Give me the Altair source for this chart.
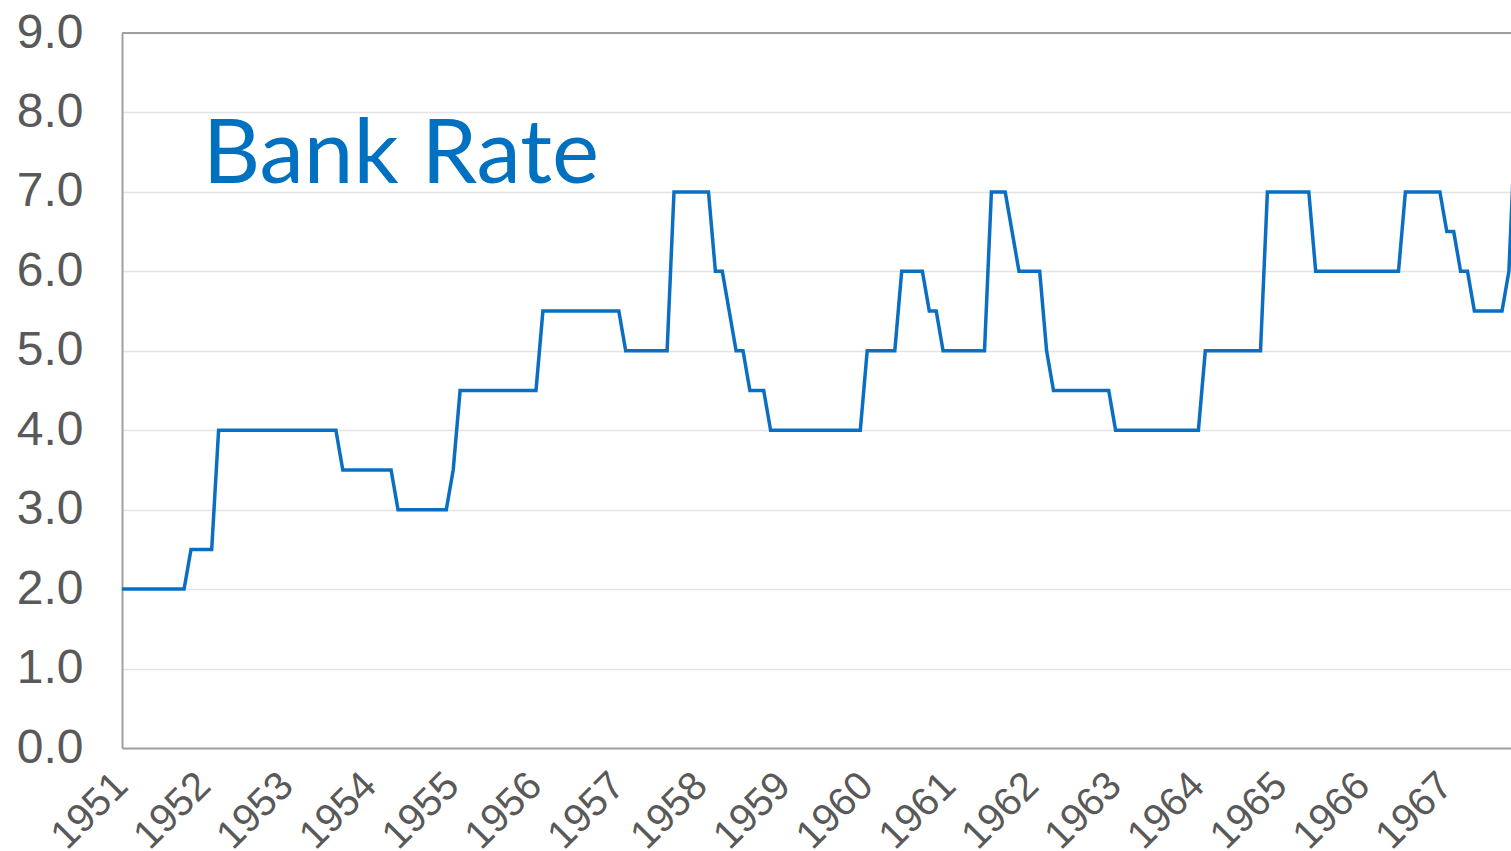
import altair as alt
import pandas as pd

# Month-end Bank Rate (%), Jan..Dec of each year
r1951 = [2.0, 2.0, 2.0, 2.0, 2.0, 2.0, 2.0, 2.0, 2.0, 2.0, 2.5, 2.5]
r1952 = [2.5, 2.5, 4.0, 4.0, 4.0, 4.0, 4.0, 4.0, 4.0, 4.0, 4.0, 4.0]
r1953 = [4.0, 4.0, 4.0, 4.0, 4.0, 4.0, 4.0, 4.0, 3.5, 3.5, 3.5, 3.5]
r1954 = [3.5, 3.5, 3.5, 3.5, 3.0, 3.0, 3.0, 3.0, 3.0, 3.0, 3.0, 3.0]
r1955 = [3.5, 4.5, 4.5, 4.5, 4.5, 4.5, 4.5, 4.5, 4.5, 4.5, 4.5, 4.5]
r1956 = [4.5, 5.5, 5.5, 5.5, 5.5, 5.5, 5.5, 5.5, 5.5, 5.5, 5.5, 5.5]
r1957 = [5.5, 5.0, 5.0, 5.0, 5.0, 5.0, 5.0, 5.0, 7.0, 7.0, 7.0, 7.0]
r1958 = [7.0, 7.0, 6.0, 6.0, 5.5, 5.0, 5.0, 4.5, 4.5, 4.5, 4.0, 4.0]
r1959 = [4.0, 4.0, 4.0, 4.0, 4.0, 4.0, 4.0, 4.0, 4.0, 4.0, 4.0, 4.0]
r1960 = [5.0, 5.0, 5.0, 5.0, 5.0, 6.0, 6.0, 6.0, 6.0, 5.5, 5.5, 5.0]
r1961 = [5.0, 5.0, 5.0, 5.0, 5.0, 5.0, 7.0, 7.0, 7.0, 6.5, 6.0, 6.0]
r1962 = [6.0, 6.0, 5.0, 4.5, 4.5, 4.5, 4.5, 4.5, 4.5, 4.5, 4.5, 4.5]
r1963 = [4.0, 4.0, 4.0, 4.0, 4.0, 4.0, 4.0, 4.0, 4.0, 4.0, 4.0, 4.0]
r1964 = [4.0, 5.0, 5.0, 5.0, 5.0, 5.0, 5.0, 5.0, 5.0, 5.0, 7.0, 7.0]
r1965 = [7.0, 7.0, 7.0, 7.0, 7.0, 6.0, 6.0, 6.0, 6.0, 6.0, 6.0, 6.0]
r1966 = [6.0, 6.0, 6.0, 6.0, 6.0, 6.0, 7.0, 7.0, 7.0, 7.0, 7.0, 7.0]
r1967 = [6.5, 6.5, 6.0, 6.0, 5.5, 5.5, 5.5, 5.5, 5.5, 6.0, 8.0, 8.0]

years = [1951, 1952, 1953, 1954, 1955, 1956, 1957, 1958, 1959,
         1960, 1961, 1962, 1963, 1964, 1965, 1966, 1967]
year_series = [r1951, r1952, r1953, r1954, r1955, r1956, r1957, r1958, r1959,
               r1960, r1961, r1962, r1963, r1964, r1965, r1966, r1967]
y_ticks = [0, 1, 2, 3, 4, 5, 6, 7, 8, 9]
title_text = "Bank Rate"

rows = []
for yr, vals in zip(years, year_series):
    for m, v in enumerate(vals):
        rows.append({"t": yr + m / 12.0, "rate": v})
df = pd.DataFrame(rows)

x_scale = alt.Scale(domain=[1951, 1951 + 1389 / 82.8], nice=False, zero=False)
y_scale = alt.Scale(domain=[0, 9], nice=False)

line = alt.Chart(df).mark_line(color="#0a6fc3", strokeWidth=3.5, clip=True).encode(
    x=alt.X("t:Q", scale=x_scale, title=None,
            axis=alt.Axis(values=years, format="d", labelAngle=315,
                          labelAlign="right", labelBaseline="middle",
                          labelPadding=31, labelOffset=-1, ticks=False,
                          grid=False, domain=True, domainColor="#a0a0a0",
                          domainWidth=2, labelFontSize=40,
                          labelFont="Liberation Sans", labelColor="#595959",
                          labelOverlap=False, labelBound=False, labelFlush=False)),
    y=alt.Y("rate:Q", scale=y_scale, title=None,
            axis=alt.Axis(values=y_ticks, format=".1f", ticks=False,
                          labelPadding=39, grid=True, gridColor="#e4e4e4",
                          gridWidth=1.5, domain=True, domainColor="#a0a0a0",
                          domainWidth=2, labelFontSize=48,
                          labelFont="Liberation Sans", labelColor="#595959",
                          labelBaseline="middle", labelOverlap=False,
                          labelBound=False, labelFlush=False)),
)

top_rule = alt.Chart(pd.DataFrame({"v": [9]})).mark_rule(
    color="#a0a0a0", strokeWidth=2
).encode(y=alt.Y("v:Q", scale=y_scale))

label = alt.Chart(pd.DataFrame({"t": [1951.975], "rate": [7.11], "txt": [title_text]})).mark_text(
    font="Lato", fontSize=89, color="#0070c0", align="left", baseline="alphabetic"
).encode(
    x=alt.X("t:Q", scale=x_scale),
    y=alt.Y("rate:Q", scale=y_scale),
    text="txt:N",
)

chart = alt.layer(top_rule, line, label).properties(
    width=1389, height=715,
    autosize=alt.AutoSizeParams(type="none"),
    padding={"left": 122, "top": 33, "right": 0, "bottom": 103},
    background="white",
).configure_view(stroke=None)

chart.save("out.html", embed_options={"renderer": "svg", "actions": False})
